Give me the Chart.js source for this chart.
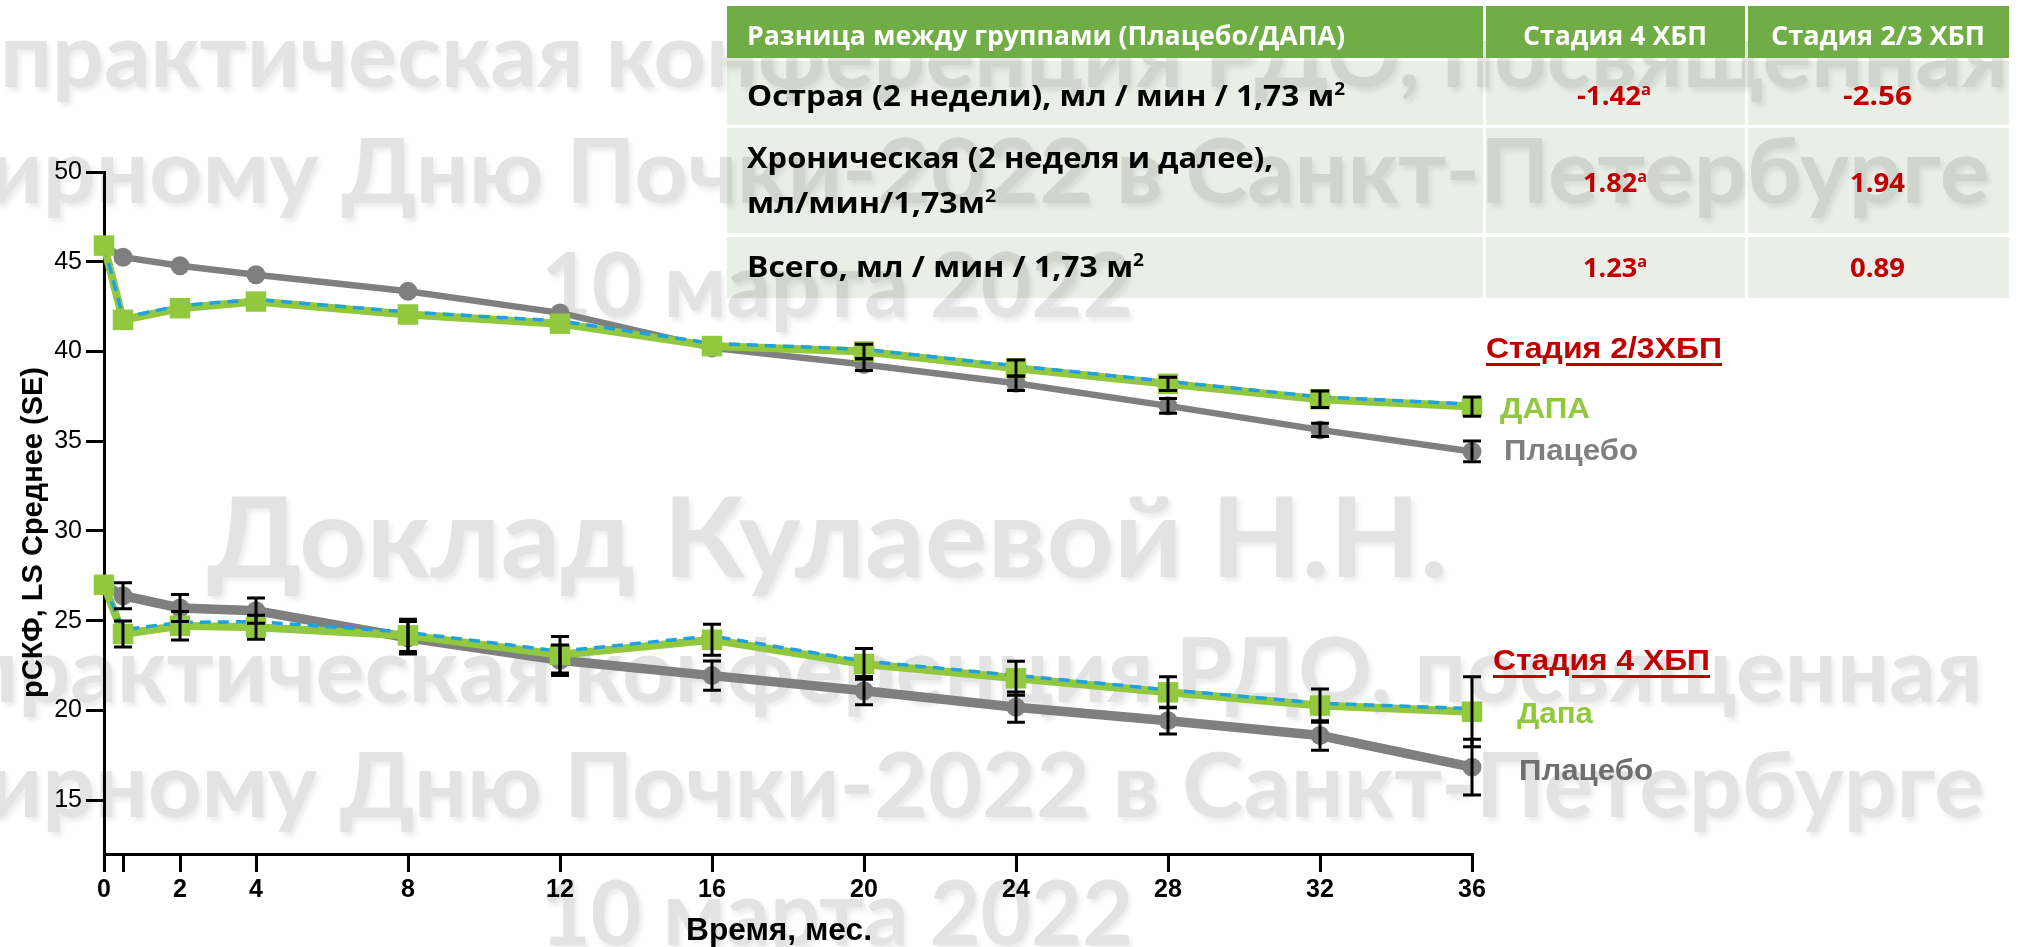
<!DOCTYPE html>
<html lang="ru">
<head>
<meta charset="UTF-8">
<title>рСКФ: ДАПА и плацебо</title>
<script src="https://cdn.jsdelivr.net/npm/chart.js"></script>
<style>
  body { margin: 0; background: #fff; }
  #page { position: relative; width: 2018px; height: 947px; overflow: hidden; }
  #marks, #overlay { position: absolute; left: 0; top: 0; width: 2018px; height: 947px; }
  #marks { z-index: 0; }
  #chartBox { position: absolute; left: 0; top: 0; width: 2018px; height: 947px; z-index: 1; }
  .row { position: absolute; background: #E9EEE6; mix-blend-mode: multiply; z-index: 2; }
  .head { position: absolute; background: #70AD47; z-index: 3; }
  #overlay { z-index: 4; pointer-events: none; }
  .lbl { position: absolute; left: 0; top: 0; white-space: nowrap; line-height: 1.2; transform-origin: 0 0; }
  .lbl sup { font-size: 0.6em; line-height: 0; }
  .base { display: inline-block; width: 0; height: 0; }
  .wm { text-shadow: 3px 4px 5px rgba(0,0,0,0.08); }
  .ul { text-decoration: underline; text-decoration-thickness: 3px; text-underline-offset: 5px; }
</style>
</head>
<body>
<div id="page">
  <div id="marks"></div>
  <div id="chartBox"><canvas id="gfr"></canvas></div>

  <!-- таблица разницы между группами -->
  <div class="head" style="left:727px; top:6px; width:756px; height:52px;"></div>
  <div class="head" style="left:1486px; top:6px; width:259px; height:52px;"></div>
  <div class="head" style="left:1748px; top:6px; width:261px; height:52px;"></div>
  <div class="row" style="left:727px; top:61px; width:756px; height:64px;"></div>
  <div class="row" style="left:1486px; top:61px; width:259px; height:64px;"></div>
  <div class="row" style="left:1748px; top:61px; width:261px; height:64px;"></div>
  <div class="row" style="left:727px; top:128px; width:756px; height:105px;"></div>
  <div class="row" style="left:1486px; top:128px; width:259px; height:105px;"></div>
  <div class="row" style="left:1748px; top:128px; width:261px; height:105px;"></div>
  <div class="row" style="left:727px; top:237px; width:756px; height:61px;"></div>
  <div class="row" style="left:1486px; top:237px; width:259px; height:61px;"></div>
  <div class="row" style="left:1748px; top:237px; width:261px; height:61px;"></div>

  <div id="overlay"></div>
</div>

<script>
  // время наблюдения, мес.
  const months = [0, 0.5, 2, 4, 8, 12, 16, 20, 24, 28, 32, 36];
  const yTicks = [15, 20, 25, 30, 35, 40, 45, 50];

  // Стадия 2/3 ХБП
  const placeboStage23 = [45.9, 45.25, 44.78, 44.27, 43.35, 42.15, 40.2, 39.27, 38.23, 36.97, 35.63, 34.43];
  const dapaStage23 = [45.9, 41.76, 42.41, 42.78, 42.06, 41.55, 40.3, 40.0, 39.07, 38.2, 37.34, 36.93];
  const dapaStage23Dash = [45.9, 41.9, 42.55, 42.9, 42.2, 41.7, 40.45, 40.12, 39.2, 38.33, 37.47, 37.06];
  const placeboStage23Err = [0, 0, 0, 0, 0, 0, 0, 0.33, 0.4, 0.41, 0.37, 0.58];
  const dapaStage23Err = [0, 0, 0, 0, 0, 0, 0, 0.4, 0.45, 0.37, 0.46, 0.54];

  // Стадия 4 ХБП
  const placeboStage4 = [27.0, 26.39, 25.71, 25.56, 24.05, 22.8, 21.94, 21.1, 20.18, 19.43, 18.6, 16.84];
  const dapaStage4 = [27.0, 24.26, 24.72, 24.63, 24.18, 23.1, 23.94, 22.59, 21.79, 21.01, 20.27, 19.93];
  const dapaStage4Dash = [27.0, 24.5, 24.9, 24.95, 24.35, 23.3, 24.15, 22.75, 21.95, 21.15, 20.4, 20.1];
  const placeboStage4Err = [0, 0.72, 0.75, 0.7, 0.9, 0.85, 0.82, 0.79, 0.84, 0.75, 0.82, 1.55];
  const dapaStage4Err = [0, 0.72, 0.79, 0.67, 0.9, 1.02, 0.86, 0.86, 0.95, 0.86, 0.93, 1.95];

  const GRAY = '#7F7F7F';
  const GREEN = '#92C83E';
  const BLUE = '#22A0E4';
  const RED = '#C00000';

  function pts(values) {
    return months.map((m, i) => ({ x: m, y: values[i] }));
  }

  function groupSets(placebo, dapa, dash, grayWidth, greenWidth) {
    return [
      { data: pts(placebo), borderColor: GRAY, borderWidth: grayWidth, backgroundColor: GRAY,
        pointStyle: 'circle', pointRadius: 9.5, pointBorderWidth: 0, order: 4 },
      { data: pts(dapa), borderColor: GREEN, borderWidth: greenWidth, pointRadius: 0, order: 3 },
      { data: pts(dash), borderColor: BLUE, borderWidth: 3.5, borderDash: [11, 7], pointRadius: 0, order: 2 },
      { data: pts(dapa), showLine: false, backgroundColor: GREEN, pointStyle: 'rect',
        pointRadius: 14.5, pointBorderWidth: 0, order: 1 }
    ];
  }

  const errorSets = [
    [placeboStage23, placeboStage23Err],
    [dapaStage23, dapaStage23Err],
    [placeboStage4, placeboStage4Err],
    [dapaStage4, dapaStage4Err]
  ];

  // планки погрешностей (SE) поверх линий
  const errorBars = {
    id: 'errorBars',
    afterDatasetsDraw(chart) {
      const { ctx, scales: { x, y } } = chart;
      ctx.save();
      ctx.strokeStyle = '#000';
      ctx.lineWidth = 3;
      for (const [vals, errs] of errorSets) {
        months.forEach((m, i) => {
          if (!errs[i]) return;
          const px = x.getPixelForValue(m);
          const top = y.getPixelForValue(vals[i] + errs[i]);
          const bot = y.getPixelForValue(vals[i] - errs[i]);
          ctx.beginPath();
          ctx.moveTo(px, top); ctx.lineTo(px, bot);
          ctx.moveTo(px - 9, top); ctx.lineTo(px + 9, top);
          ctx.moveTo(px - 9, bot); ctx.lineTo(px + 9, bot);
          ctx.stroke();
        });
      }
      ctx.restore();
    }
  };

  const axisLine = { color: '#000', width: 3 };
  const tickMarks = { drawOnChartArea: false, tickLength: 18, lineWidth: 3, color: '#000' };

  new Chart(document.getElementById('gfr'), {
    type: 'line',
    data: {
      datasets: [
        ...groupSets(placeboStage23, dapaStage23, dapaStage23Dash, 6.5, 8),
        ...groupSets(placeboStage4, dapaStage4, dapaStage4Dash, 9.5, 8)
      ].map(d => Object.assign({ tension: 0, clip: false, fill: false }, d))
    },
    options: {
      animation: false,
      responsive: true,
      maintainAspectRatio: false,
      events: [],
      layout: { padding: { top: 172, right: 546, bottom: 0, left: 0 } },
      plugins: { legend: { display: false }, tooltip: { enabled: false } },
      scales: {
        x: {
          type: 'linear', min: 0, max: 36,
          afterBuildTicks: s => { s.ticks = months.map(v => ({ value: v })); },
          afterFit: s => { s.height = 93; },
          ticks: {
            autoSkip: false, maxRotation: 0, padding: 3, color: '#000',
            font: { family: 'Liberation Sans', size: 25, weight: 'bold' },
            callback: v => (v === 0.5 ? '' : v)
          },
          grid: tickMarks,
          border: axisLine
        },
        y: {
          min: 12, max: 50,
          afterBuildTicks: s => { s.ticks = yTicks.map(v => ({ value: v })); },
          afterFit: s => { s.width = 104; },
          ticks: { padding: 4, color: '#000', font: { family: 'Liberation Sans', size: 25 } },
          grid: tickMarks,
          border: axisLine
        }
      }
    },
    plugins: [errorBars]
  });

  // подписи: x — левый край (или центр), base — базовая линия, fit — ширина
  function label(html, o, parent) {
    const el = document.createElement('div');
    el.className = 'lbl' + (o.cls ? ' ' + o.cls : '');
    el.style.font = `${o.weight || 700} ${o.size}px ${o.family || 'Liberation Sans'}`;
    el.style.color = o.color || '#000';
    el.innerHTML = (o.pre ? `<span class="pre">${o.pre}</span>` : '') +
      `<span class="txt">${html}</span><span class="base"></span>`;
    (parent || document.getElementById('overlay')).appendChild(el);
    const box = el.getBoundingClientRect();
    const baseOff = el.querySelector('.base').getBoundingClientRect().top - box.top;
    const txtW = el.querySelector('.txt').getBoundingClientRect().width;
    const preW = o.pre ? el.querySelector('.pre').getBoundingClientRect().width : 0;
    const k = o.fit ? o.fit / txtW : 1;
    if (k !== 1) el.style.transform = `scaleX(${k})`;
    let left = o.x - preW * k;
    if (o.align === 'center') left = o.x - txtW * k / 2;
    el.style.left = left + 'px';
    el.style.top = (o.base - baseOff) + 'px';
    return el;
  }

  // фоновые надписи
  const marks = document.getElementById('marks');
  const wm = { family: 'Lato', size: 90, cls: 'wm', color: '#E3E3E3' };
  label('практическая конференция РДО, посвященная', { ...wm, x: 0, fit: 2008, base: 87 }, marks);
  label('ирному Дню Почки-2022 в Санкт-Петербурге', { ...wm, pre: 'Всем', x: -12, fit: 2001, base: 203 }, marks);
  label('10 марта 2022', { ...wm, x: 541, fit: 592, base: 317 }, marks);
  label('Доклад Кулаевой Н.Н.', { ...wm, size: 112, x: 207, fit: 1241, base: 577 }, marks);
  label('рактическая конференция РДО, посвященная', { ...wm, pre: 'п', x: 18, fit: 1964, base: 702 }, marks);
  label('ирному Дню Почки-2022 в Санкт-Петербурге', { ...wm, pre: 'Всем', x: -12, fit: 1996, base: 817 }, marks);
  label('10 марта 2022', { ...wm, x: 540, fit: 593, base: 945 }, marks);

  // подписи осей
  label('Время, мес.', { size: 31, x: 779, align: 'center', fit: 186, base: 940 });
  const yTitle = label('рСКФ, LS Среднее (SE)', { size: 29, x: 0, base: 0 });
  const yb = yTitle.getBoundingClientRect();
  yTitle.style.left = (32 - yb.width / 2) + 'px';
  yTitle.style.top = (532 - yb.height / 2) + 'px';
  yTitle.style.transformOrigin = '50% 50%';
  yTitle.style.transform = 'rotate(-90deg)';

  // обозначения групп справа
  label('Стадия 2/3ХБП', { size: 30, color: RED, cls: 'ul', x: 1486, fit: 236, base: 358 });
  label('ДАПА', { size: 30, color: GREEN, x: 1500, fit: 90, base: 418 });
  label('Плацебо', { size: 30, color: GRAY, x: 1504, fit: 134, base: 460 });
  label('Стадия 4 ХБП', { size: 30, color: RED, cls: 'ul', x: 1493, fit: 217, base: 670 });
  label('Дапа', { size: 30, color: GREEN, x: 1517, fit: 76, base: 723 });
  label('Плацебо', { size: 30, color: '#6E6E6E', x: 1519, fit: 134, base: 780 });

  // текст таблицы
  const th = { family: 'Open Sans', size: 26, color: '#fff' };
  label('Разница между группами (Плацебо/ДАПА)', { ...th, x: 747, fit: 598, base: 45 });
  label('Стадия 4 ХБП', { ...th, x: 1615, align: 'center', fit: 184, base: 45 });
  label('Стадия 2/3 ХБП', { ...th, x: 1878, align: 'center', fit: 214, base: 45 });

  const td = { family: 'Open Sans', size: 29 };
  label('Острая (2 недели), мл / мин / 1,73 м<sup>2</sup>', { ...td, x: 747, fit: 598, base: 106 });
  label('Хроническая (2 неделя и далее),', { ...td, x: 747, fit: 526, base: 168 });
  label('мл/мин/1,73м<sup>2</sup>', { ...td, x: 747, fit: 249, base: 213 });
  label('Всего, мл / мин / 1,73 м<sup>2</sup>', { ...td, x: 747, fit: 397, base: 277 });

  const tv = { family: 'Open Sans', size: 27, color: RED, align: 'center' };
  label('-1.42<sup>a</sup>', { ...tv, x: 1614, fit: 74, base: 105 });
  label('-2.56', { ...tv, x: 1877, fit: 69, base: 105 });
  label('1.82<sup>a</sup>', { ...tv, x: 1615, fit: 64, base: 192 });
  label('1.94', { ...tv, x: 1877, fit: 55, base: 192 });
  label('1.23<sup>a</sup>', { ...tv, x: 1615, fit: 64, base: 277 });
  label('0.89', { ...tv, x: 1877, fit: 55, base: 277 });
</script>
</body>
</html>
